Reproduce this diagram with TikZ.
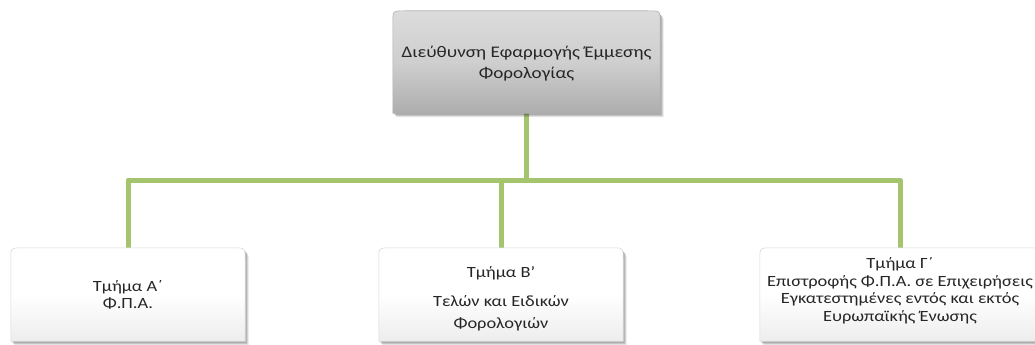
\documentclass[tikz,border=0pt]{standalone}
\usepackage{fontspec}
\setmainfont{Carlito}[FakeStretch=1.18]
\usetikzlibrary{calc}
\definecolor{linkgreen}{HTML}{A5C46E}
\definecolor{txt}{HTML}{262626}
\tikzset{
  frame/.style={draw=none, inner sep=0pt},
  label/.style={align=center, text=txt, inner sep=0pt, font=\fontsize{15.6}{17.5}\selectfont},
  toplabel/.style={align=center, text=txt, inner sep=0pt, font=\fontsize{16.2}{21}\selectfont},
  link/.style={draw=linkgreen, line width=5pt},
}
% path of a rectangle with rounded top corners (y axis points down)
\newcommand{\rtpath}[3]{% node, dx, dy
  ($(#1.south west)+(#2,#3)$) -- ($(#1.north west)+(#2,12+#3)$) .. controls ($(#1.north west)+(#2,#3)$) .. ($(#1.north west)+(12+#2,#3)$) -- ($(#1.north east)+(-12+#2,#3)$) .. controls ($(#1.north east)+(#2,#3)$) .. ($(#1.north east)+(#2,12+#3)$) -- ($(#1.south east)+(#2,#3)$) -- cycle}
\newcommand{\roundtop}[3]{% node, fill options, outline options
  \fill[black, opacity=0.10] \rtpath{#1}{3.5}{4};
  \fill[black, opacity=0.12] \rtpath{#1}{2.5}{3};
  \fill[black, opacity=0.15] \rtpath{#1}{1.5}{2};
  \path[#2] \rtpath{#1}{0}{0};
  \path[#3] \rtpath{#1}{0}{0};
}
\begin{document}
\begin{tikzpicture}[x=1pt,y=-1pt]
\useasboundingbox (0,0) rectangle (1035,345);
\clip (0,0) rectangle (1035,345);
\fill[white] (0,0) rectangle (1035,345);
% frames
\node[frame, minimum width=267pt, minimum height=102pt] (dir) at (526.5,62) {};
\node[frame, minimum width=234pt, minimum height=93pt] (a) at (128,294.5) {};
\node[frame, minimum width=244pt, minimum height=93pt] (b) at (501,294.5) {};
\node[frame, minimum width=280pt, minimum height=93pt] (c) at (900,294.5) {};
% connectors
\coordinate (hub) at (526.5,180);
\draw[link] (dir.south) -- (hub);
\draw[link, line join=round] (a.north) |- (c.north |- hub) -- (c.north);
\draw[link] (b.north |- hub) -- (b.north);
% boxes
\roundtop{dir}{top color=black!14, bottom color=black!32, middle color=black!19}{draw=black!30, line width=0.6pt}
\roundtop{a}{top color=white, bottom color=black!7, middle color=white}{draw=black!15, line width=0.6pt}
\roundtop{b}{top color=white, bottom color=black!7, middle color=white}{draw=black!15, line width=0.6pt}
\roundtop{c}{top color=white, bottom color=black!7, middle color=white}{draw=black!15, line width=0.6pt}
% texts
\node[toplabel] (dirtext) at ($(dir.center)+(0,2)$) {Διεύθυνση Εφαρμογής Έμμεσης\\Φορολογίας};
\node[label] (atext) at ($(a.center)+(0,0.5)$) {Τμήμα Α΄\\Φ.Π.Α.};
\node[label] (btext) at ($(b.center)+(0,4)$) {Τμήμα Β'\\[12pt]Τελών και Ειδικών\\[4pt]Φορολογιών};
\node[label] (ctext) at ($(c.center)+(0,-3.5)$) {Τμήμα Γ΄\\Επιστροφής Φ.Π.Α. σε Επιχειρήσεις\\Εγκατεστημένες εντός και εκτός\\Ευρωπαϊκής Ένωσης};
\end{tikzpicture}
\end{document}
